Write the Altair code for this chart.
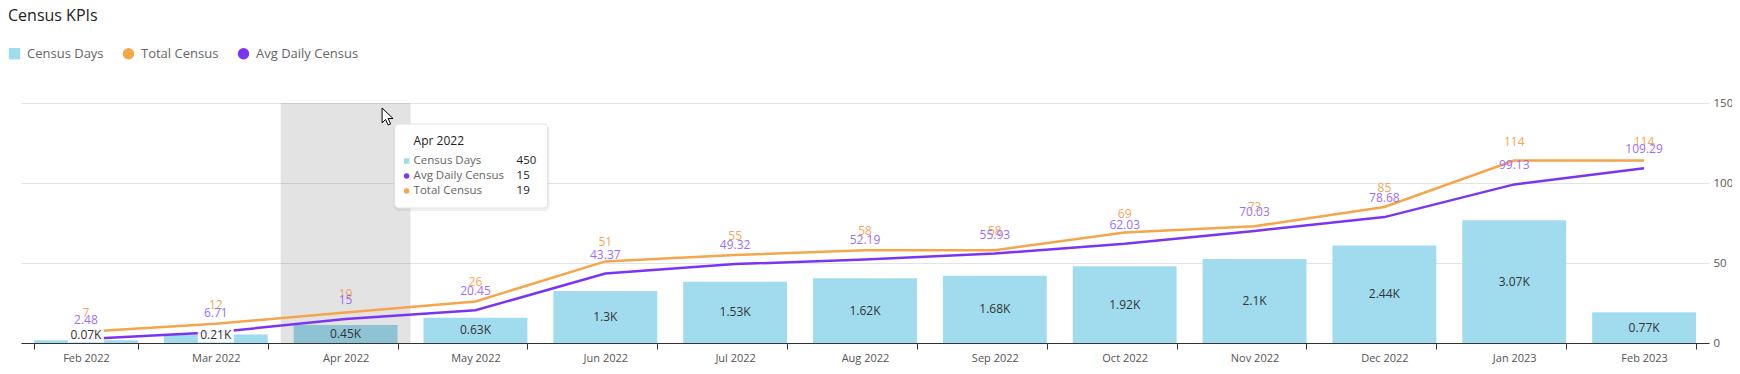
import altair as alt
import pandas as pd

# ---------------- data ----------------
months = ["Feb 2022", "Mar 2022", "Apr 2022", "May 2022", "Jun 2022", "Jul 2022",
          "Aug 2022", "Sep 2022", "Oct 2022", "Nov 2022", "Dec 2022", "Jan 2023", "Feb 2023"]
census_days = [70, 210, 450, 630, 1300, 1530, 1620, 1680, 1920, 2100, 2440, 3070, 770]
total_census = [7, 12, 19, 26, 51, 55, 58, 58, 69, 73, 85, 114, 114]
avg_daily_census = [2.48, 6.71, 15, 20.45, 43.37, 49.32, 52.19, 55.93, 62.03, 70.03, 78.68, 99.13, 109.29]

series = ["Census Days", "Total Census", "Avg Daily Census"]
series_colors = ["#a0dcee", "#f5a54a", "#7b34f2"]
series_shapes = ["square", "circle", "circle"]
title_text = "Census KPIs"
hover_month = "Apr 2022"
tip_order = ["Census Days", "Avg Daily Census", "Total Census"]

# ---------------- styling ----------------
FONT = "Open Sans"
W, H = 1688, 240
BAR_MAX, LINE_MAX = 6000, 150
ORANGE_TXT = "#f4a65a"
PURPLE_TXT = "#9d6ef6"
CURSOR = ("M-0.65,-1 L-0.65,0.76 L-0.24,0.35 L0.06,1 L0.35,0.88 "
          "L0.06,0.24 L0.64,0.24 Z")

df = pd.DataFrame({"month": months, "days": census_days,
                   "total": total_census, "avg": avg_daily_census})

x_axis = alt.Axis(title=None, labelAngle=0, tickBand="extent", grid=False,
                  domainColor="#333", tickColor="#333", tickSize=6,
                  labelPadding=3, labelFontSize=11, labelColor="#555", labelFont=FONT)
x_scale = alt.Scale(paddingInner=0.2, paddingOuter=0.1)


def xe(bp=None):
    if bp is None:
        return alt.X("month:N", sort=months, scale=x_scale, axis=x_axis)
    return alt.X("month:N", sort=months, scale=x_scale, axis=x_axis, bandPosition=bp)


bar_y = alt.Scale(domain=[0, BAR_MAX])
line_y = alt.Scale(domain=[0, LINE_MAX])
y_axis = alt.Axis(orient="right", values=[0, 50, 100, 150], title=None, grid=True,
                  gridColor="#e3e3e3", domain=False, ticks=False, tickSize=0,
                  labelPadding=4, labelFontSize=11.5, labelColor="#555", labelFont=FONT)

base = alt.Chart(df)

# ---------- bars + hover highlight ----------
bars = base.mark_bar(color=series_colors[0]).encode(
    x=xe(), y=alt.Y("days:Q", scale=bar_y, axis=None))
highlight = base.transform_filter(alt.datum.month == hover_month).mark_bar(
    color="black", opacity=0.11, width={"band": 1.25}
).encode(x=xe(), y=alt.value(0), y2=alt.value(H))
bar_layer = alt.layer(bars, highlight)

# ---------- lines ----------
purple_line = base.mark_line(color=series_colors[2], strokeWidth=2.5).encode(
    x=xe(), y=alt.Y("avg:Q", scale=line_y, axis=y_axis))
orange_line = base.mark_line(color=series_colors[1], strokeWidth=2.5).encode(
    x=xe(), y=alt.Y("total:Q", scale=line_y, axis=y_axis))
orange_lbl = base.transform_calculate(lbl="format(datum.total, '.2~f')").mark_text(
    color=ORANGE_TXT, dy=-19, fontSize=12, font=FONT
).encode(x=xe(), y=alt.Y("total:Q", scale=line_y, axis=y_axis), text="lbl:N")
purple_lbl = base.transform_calculate(lbl="format(datum.avg, '.2~f')").mark_text(
    color=PURPLE_TXT, dy=-19, fontSize=12, font=FONT
).encode(x=xe(), y=alt.Y("avg:Q", scale=line_y, axis=y_axis), text="lbl:N")

legend_def = alt.Legend(title=None, orient="none", legendX=-13, legendY=-56,
                        direction="horizontal", labelFont=FONT, labelFontSize=13,
                        labelColor="#666", symbolSize=130, symbolStrokeWidth=0,
                        labelOffset=6, columnPadding=18, padding=0)
legend_pts = alt.Chart(pd.DataFrame({"series": series})).transform_filter("false").mark_point(
    filled=True, opacity=1
).encode(
    color=alt.Color("series:N", scale=alt.Scale(domain=series, range=series_colors), legend=legend_def),
    shape=alt.Shape("series:N", scale=alt.Scale(domain=series, range=series_shapes), legend=legend_def),
)
line_layer = alt.layer(purple_line, orange_line, orange_lbl, purple_lbl, legend_pts)

# ---------- bar value labels (with white box where bar is too short) ----------
lab = base.transform_calculate(
    lbl="format(datum.days / 1000, '.2~f') + 'K'",
    ly="max(datum.days / 2, 200)")
boxes = lab.transform_filter("datum.days < 400").transform_calculate(
    b0="datum.ly - 190", b1="datum.ly + 190"
).mark_bar(color="white", opacity=0.92, width=36).encode(
    x=xe(), y=alt.Y("b0:Q", scale=bar_y, axis=None), y2="b1:Q")
bar_texts = lab.mark_text(fontSize=12, color="#333", font=FONT).encode(
    x=xe(), y=alt.Y("ly:Q", scale=bar_y, axis=None), text="lbl:N")
label_layer = alt.layer(boxes, bar_texts)

# ---------- tooltip (static) + cursor + chart title ----------
hi = months.index(hover_month)
tip_vals = {"Census Days": census_days[hi], "Avg Daily Census": avg_daily_census[hi],
            "Total Census": total_census[hi]}
tip = pd.DataFrame({
    "month": [hover_month] * 3,
    "name": tip_order,
    "value": [tip_vals[n] for n in tip_order],
    "row": [0, 1, 2],
    "c": [series_colors[series.index(n)] for n in tip_order],
    "s": [series_shapes[series.index(n)] for n in tip_order],
})
tbase = alt.Chart(tip)
first = tbase.transform_filter("datum.row == 0")
tip_shadow = first.mark_rect(
    fill="black", opacity=0.06, cornerRadius=5, xOffset=48, x2Offset=204, yOffset=1, y2Offset=3
).encode(x=xe(0.5), x2=alt.X2("month:N", bandPosition=0.5), y=alt.value(21), y2=alt.value(105))
tip_box = first.mark_rect(
    fill="white", stroke="#e2e2e2", strokeWidth=1, cornerRadius=4, xOffset=49, x2Offset=202
).encode(x=xe(0.5), x2=alt.X2("month:N", bandPosition=0.5), y=alt.value(21), y2=alt.value(105))
tip_title = first.mark_text(
    align="left", baseline="middle", xOffset=68, fontSize=12, color="#222", font=FONT
).encode(x=xe(0.5), y=alt.value(38), text="month:N")
tip_rows = tbase.transform_calculate(ty="58 + 15 * datum.row")
tip_names = tip_rows.mark_text(
    align="left", baseline="middle", xOffset=68, fontSize=11.5, color="#666", font=FONT
).encode(x=xe(0.5), y=alt.Y("ty:Q", scale=None, axis=None), text="name:N")
tip_values = tip_rows.mark_text(
    align="left", baseline="middle", xOffset=171, fontSize=11.5, color="#222", font=FONT
).encode(x=xe(0.5), y=alt.Y("ty:Q", scale=None, axis=None), text=alt.Text("value:Q", format=".2~f"))
tip_marks = tip_rows.mark_point(filled=True, opacity=1, size=30, xOffset=61).encode(
    x=xe(0.5), y=alt.Y("ty:Q", scale=None, axis=None),
    color=alt.Color("c:N", scale=None), shape=alt.Shape("s:N", scale=None))
cursor = first.mark_point(
    shape=CURSOR, filled=True, fill="white", stroke="black", strokeWidth=1,
    opacity=1, size=289, xOffset=42
).encode(x=xe(0.5), y=alt.value(13.5))
title_mark = alt.Chart(pd.DataFrame({"t": [title_text]})).mark_text(
    align="left", baseline="alphabetic", fontSize=16, color="#222", font=FONT
).encode(x=alt.value(-13), y=alt.value(-82), text="t:N")
tip_layer = alt.layer(tip_shadow, tip_box, tip_title, tip_names, tip_values, tip_marks,
                      cursor, title_mark)

chart = alt.layer(bar_layer, line_layer, label_layer, tip_layer).resolve_scale(
    y="independent"
).properties(
    width=W, height=H,
    autosize=alt.AutoSizeParams(type="none"),
    padding={"left": 13, "top": 95, "right": 23, "bottom": 23},
).configure(font=FONT).configure_view(strokeWidth=0, stroke="transparent")

chart.save("out.html", embed_options={"renderer": "svg", "actions": False})
